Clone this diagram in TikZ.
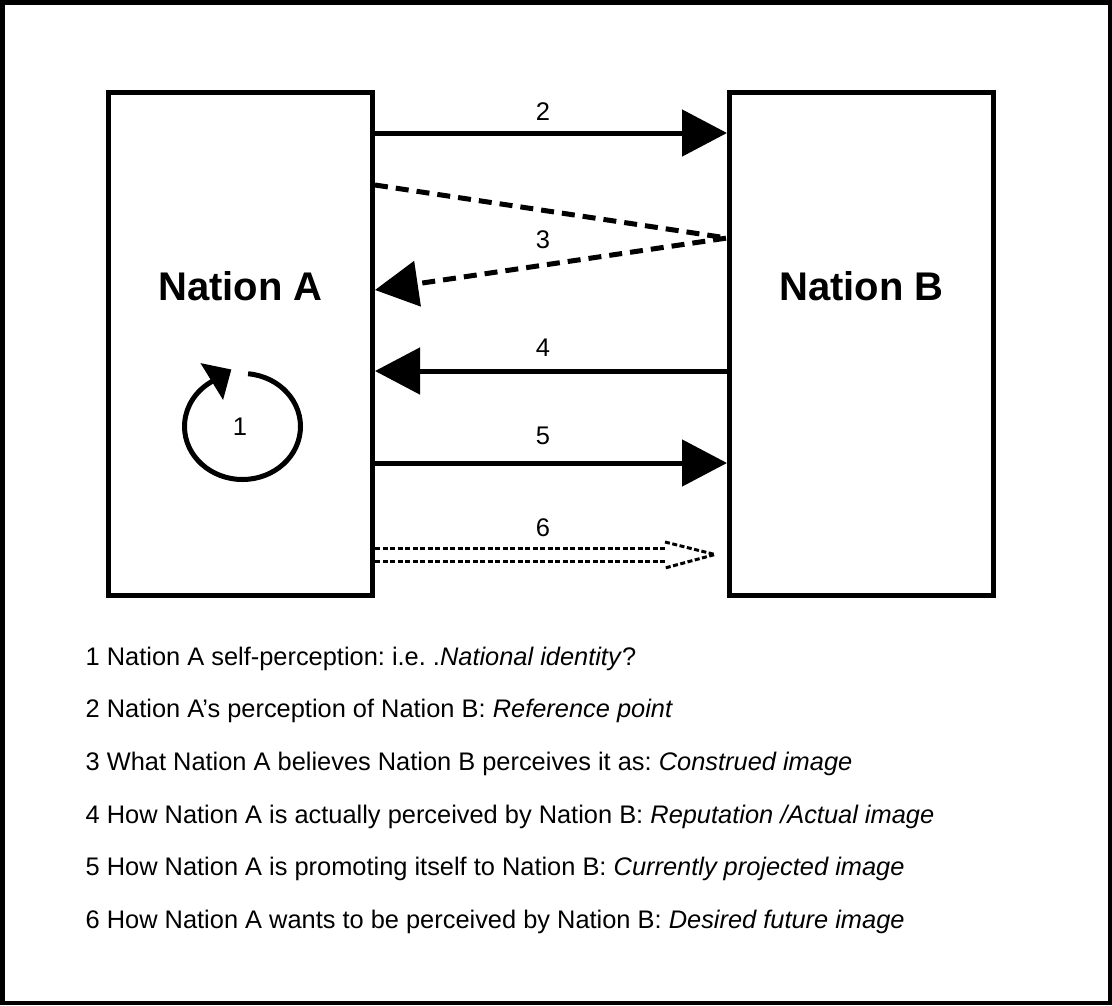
\documentclass[tikz,border=0pt]{standalone}
\usepackage{fontspec}
\setmainfont{Liberation Sans}
\usetikzlibrary{arrows.meta,calc}
\frenchspacing
\begin{document}
\begin{tikzpicture}[x=1pt,y=1pt,
  nbox/.style={draw, line width=5pt, minimum width=264pt, minimum height=502.5pt, inner sep=0pt},
  nname/.style={font=\fontsize{40}{48}\selectfont\bfseries, inner sep=0pt},
  num/.style={font=\fontsize{25.5}{30}\selectfont, inner sep=0pt},
  legend/.style={font=\fontsize{25.4}{30}\selectfont, inner sep=0pt, anchor=base west},
  solidarrow/.style={line width=5pt, -{Triangle[length=45pt,width=46pt]}},
  dasharrow/.style={line width=5pt, dash pattern=on 13pt off 8pt, -{Triangle[length=43pt,width=45pt]}},
  dotline/.style={line width=3pt, dash pattern=on 5pt off 2.5pt},
  selfarrow/.style={line width=5pt, -{Triangle[length=23pt,width=42pt]}}
]
\useasboundingbox (0,0) rectangle (1112,-1005);
\draw[line width=4.5pt] (2.25,-2.25) rectangle (1109.75,-1002.75);

% boxes
\node[nbox, label={[nname, yshift=57.75pt]center:Nation A}] (A) at (240.5,-343.75) {};
\node[nbox, label={[nname, yshift=57.75pt]center:Nation B}] (B) at (861.5,-343.75) {};

% arrow 2
\draw[solidarrow] (A.east |- 0,-133) -- (B.west |- 0,-133);
\node[num] (l2) at (543,-111.5) {2};

% arrow 3
\draw[dasharrow] (A.east |- 0,-185) -- (B.west |- 0,-238) -- (A.east |- 0,-290);
\node[num] (l3) at (543,-240) {3};

% arrow 4
\draw[solidarrow] (B.west |- 0,-371) -- (A.east |- 0,-371);
\node[num] (l4) at (543,-348) {4};

% arrow 5
\draw[solidarrow] (A.east |- 0,-463) -- (B.west |- 0,-463);
\node[num] (l5) at (543,-436) {5};

% arrow 6 (double dotted, open dashed head)
\coordinate (t6) at ($(B.west |- 0,-554.5)+(-12,0)$);
\coordinate (h6a) at ($(t6)+(-50,12.5)$);
\coordinate (h6b) at ($(t6)+(-50,-13.5)$);
\draw[dotline] (A.east |- 0,-548) -- (h6a |- 0,-548);
\draw[dotline] (A.east |- 0,-561) -- (h6a |- 0,-561);
\draw[dotline] (h6a) -- (t6) -- (h6b);
\node[num] (l6) at (543,-528) {6};

% self-perception loop
\node[num] (n1) at (240,-427) {1};
\coordinate (c1) at ($(n1)+(2.5,0.5)$);
\draw[selfarrow] ($(c1)+(84.5:58 and 53)$) arc[start angle=84.5, end angle=-236, x radius=58, y radius=53] -- ++(21.3,13.1);

% legend
\node[legend] (t1) at (85.5,-665) {1 Nation A self-perception: i.e. .\textit{National identity}?};
\node[legend] (t2) at (85.5,-717.7) {2 Nation A’s perception of Nation B: \textit{Reference point}};
\node[legend] (t3) at (85.5,-770.4) {3 What Nation A believes Nation B perceives it as: \textit{Construed image}};
\node[legend] (t4) at (85.5,-823.1) {4 How Nation A is actually perceived by Nation B: \textit{Reputation /Actual image}};
\node[legend] (t5) at (85.5,-875.8) {5 How Nation A is promoting itself to Nation B: \textit{Currently projected image}};
\node[legend] (t6l) at (85.5,-928.5) {6 How Nation A wants to be perceived by Nation B: \textit{Desired future image}};
\end{tikzpicture}
\end{document}
